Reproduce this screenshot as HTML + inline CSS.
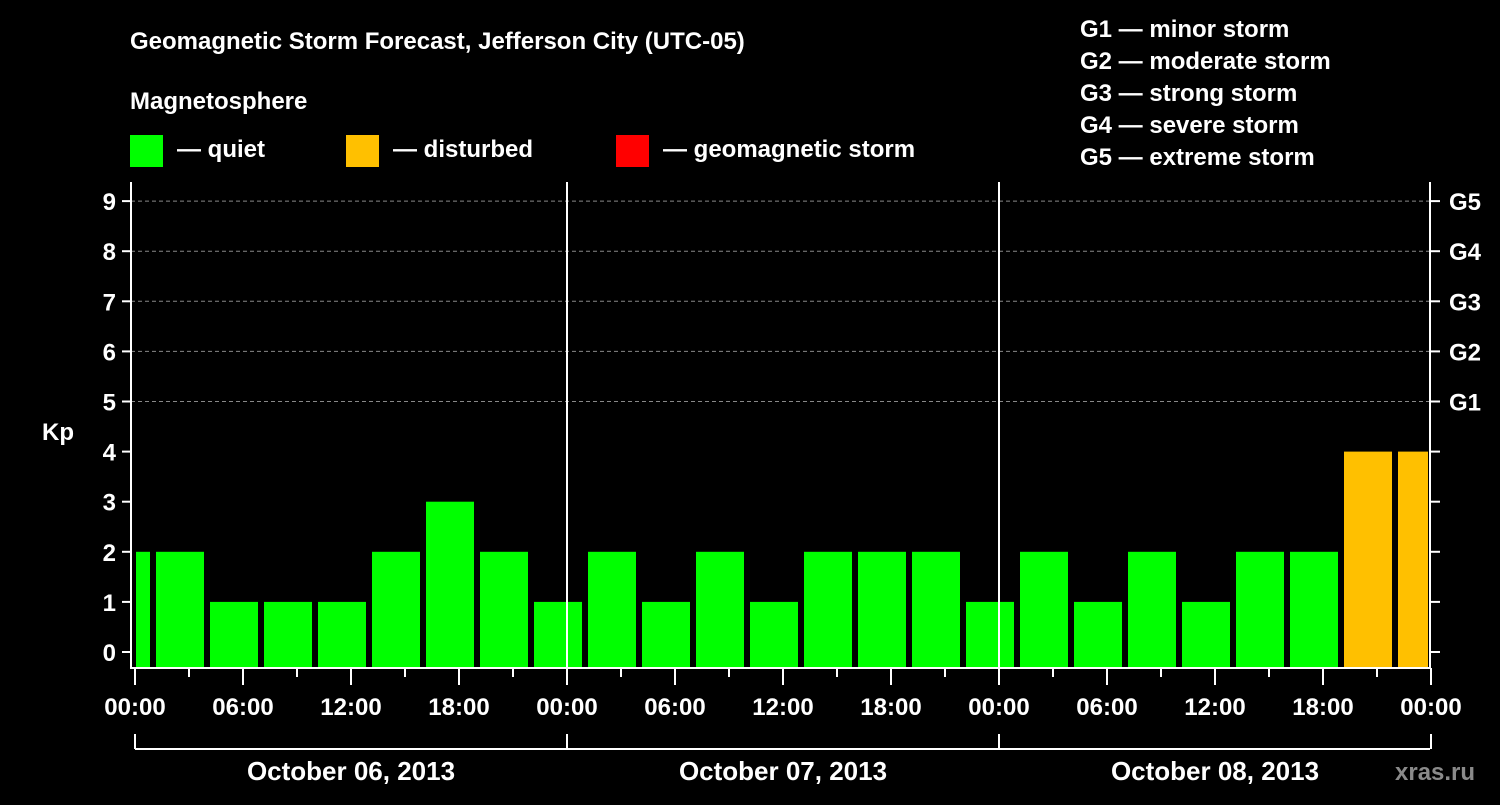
<!DOCTYPE html>
<html><head><meta charset="utf-8"><style>
body{margin:0;background:#000;width:1500px;height:800px;overflow:hidden}
svg text{font-family:"Liberation Sans",Arial,sans-serif;font-weight:bold;fill:#fff}
</style></head><body>
<svg id="chart" width="1500" height="800">
<text x="130" y="49" font-size="24">Geomagnetic Storm Forecast, Jefferson City (UTC-05)</text>
<text x="130" y="109" font-size="24">Magnetosphere</text>
<rect x="130" y="135" width="33" height="32" fill="#00ff00"/>
<text x="177" y="157" font-size="24">— quiet</text>
<rect x="346" y="135" width="33" height="32" fill="#ffc000"/>
<text x="393" y="157" font-size="24">— disturbed</text>
<rect x="616" y="135" width="33" height="32" fill="#ff0000"/>
<text x="663" y="157" font-size="24">— geomagnetic storm</text>
<g font-size="24">
<text x="1080" y="37">G1 — minor storm</text>
<text x="1080" y="69">G2 — moderate storm</text>
<text x="1080" y="101">G3 — strong storm</text>
<text x="1080" y="133">G4 — severe storm</text>
<text x="1080" y="165">G5 — extreme storm</text>
</g>
<text x="42" y="440" font-size="24">Kp</text>
<text x="1395" y="780" font-size="24" fill="#888" style="fill:#8a8a8a">xras.ru</text>
<g id="plot"></g>
</svg>
<script>
const kpValues=[2,2,1,1,1,2,3,2,1,2,1,2,1,2,2,2,1,2,1,2,1,2,2,4,4];
const startHour=-2;
const days=["October 06, 2013","October 07, 2013","October 08, 2013"];
const hourLabels=["00:00","06:00","12:00","18:00"];
const gLabels=["G1","G2","G3","G4","G5"];
const NS="http://www.w3.org/2000/svg";
const g=document.getElementById('plot');
const X0=135,PX_H=18,Y0=652,PX_K=50.1,BOTTOM=668,TOP=182,RIGHT=1430;
const xs=h=>X0+h*PX_H, ys=k=>Y0-k*PX_K;
function mk(t,a){const e=document.createElementNS(NS,t);for(const k in a)e.setAttribute(k,a[k]);g.appendChild(e);return e;}
// grid
for(let k=5;k<=9;k++){const l=mk('line',{x1:131,x2:RIGHT,y1:ys(k),y2:ys(k),stroke:'#888','stroke-dasharray':'4,3','stroke-width':1});

}
// bars
kpValues.forEach((v,i)=>{let a=xs(startHour+3*i)+3,b=xs(startHour+3*i+3)-3;a=Math.max(a,136);b=Math.min(b,RIGHT-2);
const r=mk('rect',{x:a,y:ys(v),width:b-a,height:BOTTOM-ys(v),fill:v>=5?'#ff0000':v>=4?'#ffc000':'#00ff00'});

});
// day separators
for(let d=1;d<3;d++){const l=mk('line',{x1:xs(24*d),x2:xs(24*d),y1:TOP,y2:BOTTOM,stroke:'#fff','stroke-width':2});

}
// frame
const fr=mk('path',{d:`M131 ${TOP} V${BOTTOM} H${RIGHT} V${TOP}`,fill:'none',stroke:'#fff','stroke-width':2});


// y ticks
for(let k=0;k<=9;k++){const y=ys(k);mk('line',{x1:122,x2:131,y1:y,y2:y,stroke:'#fff','stroke-width':2});mk('line',{x1:RIGHT,x2:RIGHT+10,y1:y,y2:y,stroke:'#fff','stroke-width':2});
const t=mk('text',{x:116,y:y+9,'text-anchor':'end','font-size':24});t.textContent=k;

}
gLabels.forEach((s,i)=>{const t=mk('text',{x:1449,y:ys(5+i)+9,'font-size':24});t.textContent=s;

});
// x ticks
for(let h=0;h<=72;h+=3){const x=xs(h);mk('line',{x1:x,x2:x,y1:BOTTOM,y2:h%6?677:685,stroke:'#fff','stroke-width':2});
if(h%6===0){const t=mk('text',{x:x,y:715,'text-anchor':'middle','font-size':24});t.textContent=hourLabels[(h%24)/6];

}}
// date bracket
mk('line',{x1:X0,x2:RIGHT,y1:749,y2:749,stroke:'#fff','stroke-width':2});
for(let d=0;d<=3;d++)mk('line',{x1:xs(24*d),x2:xs(24*d),y1:734,y2:749,stroke:'#fff','stroke-width':2});
days.forEach((s,d)=>{const t=mk('text',{x:xs(24*d+12),y:780,'text-anchor':'middle','font-size':26});t.textContent=s;

});
</script>
</body></html>
